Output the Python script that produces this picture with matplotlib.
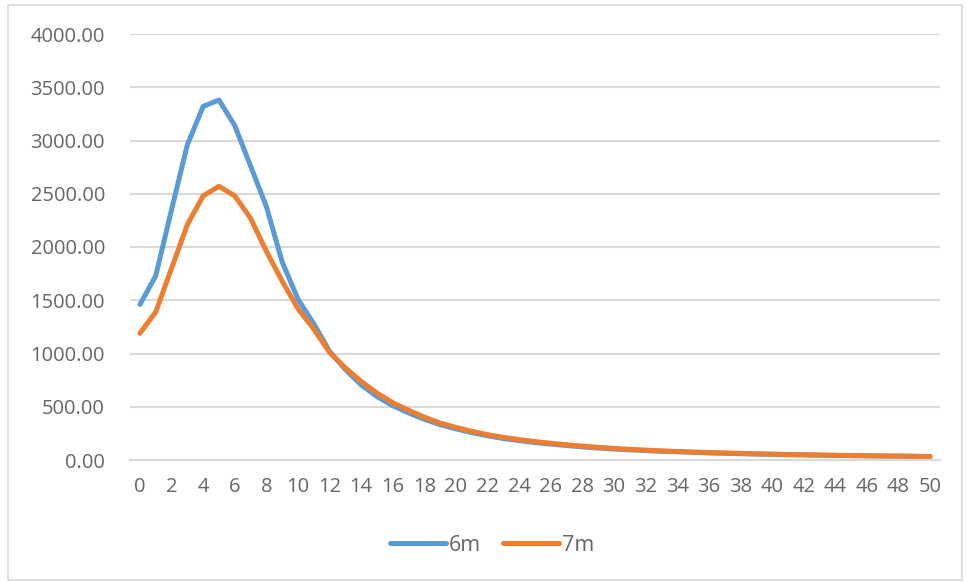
import numpy as np
import matplotlib.pyplot as plt
from matplotlib.patches import Rectangle

plt.rcParams['font.family'] = ['Open Sans', 'DejaVu Sans']

x = np.arange(0, 51)

vals_6m = [1460, 1730, 2350, 2960, 3320, 3380, 3140, 2760, 2380, 1860,
           1510, 1280, 1020, 850, 705, 595, 510, 442, 382, 332,
           292, 257, 227, 202, 182, 164, 149, 136, 123, 112,
           103, 95, 88, 82, 77, 72, 67, 63, 59, 56,
           53, 50, 48, 45, 43, 41, 39, 37, 36, 34, 32]

vals_7m = [1190, 1390, 1800, 2210, 2480, 2570, 2480, 2270, 1960, 1680,
           1420, 1230, 1010, 865, 738, 628, 538, 467, 402, 347,
           306, 270, 238, 212, 192, 173, 157, 143, 130, 119,
           109, 100, 93, 86, 80, 75, 70, 66, 62, 58,
           55, 52, 49, 47, 44, 42, 40, 38, 37, 35, 33]

y_ticks = np.arange(0, 4001, 500)
x_ticks = np.arange(0, 51, 2)

fig = plt.figure(figsize=(9.66, 5.82), dpi=100)
ax = fig.add_axes([130 / 966, 1 - 460 / 582, 810 / 966, 426 / 582])

# outer chart frame
fig.patches.append(Rectangle((8 / 966, 2 / 582), 954 / 966, 575 / 582,
                             transform=fig.transFigure, fill=False,
                             edgecolor='#d9d9d9', linewidth=1.2))

ax.plot(x, vals_6m, color='#5b9bd5', linewidth=3.6, label='6m',
        solid_capstyle='round', solid_joinstyle='round')
ax.plot(x, vals_7m, color='#ed7d31', linewidth=3.6, label='7m',
        solid_capstyle='round', solid_joinstyle='round')

ax.set_xlim(-0.63, 50.63)
ax.set_ylim(0, 4000)
ax.set_yticks(y_ticks)
ax.set_yticklabels([f'{v:.2f}' for v in y_ticks])
ax.set_xticks(x_ticks)
ax.set_xticklabels([str(v) for v in x_ticks])

ax.grid(axis='y', color='#d9d9d9', linewidth=1.5)
ax.set_axisbelow(True)
for s in ax.spines.values():
    s.set_visible(False)
ax.spines['bottom'].set_visible(True)
ax.spines['bottom'].set_color('#d9d9d9')
ax.spines['bottom'].set_linewidth(1.5)

ax.tick_params(axis='both', length=0, labelsize=14.5, colors='#666666')
ax.tick_params(axis='y', pad=18)
ax.tick_params(axis='x', pad=12)

leg = ax.legend(loc='center', bbox_to_anchor=(0.447, -0.2), ncol=2, frameon=False,
                fontsize=15.5, handlelength=2.6, handletextpad=0.15,
                columnspacing=1.0)
for t in leg.get_texts():
    t.set_color('#666666')

fig.savefig('out.png', dpi=100)
